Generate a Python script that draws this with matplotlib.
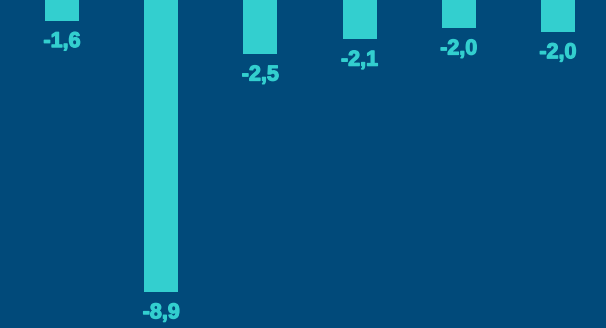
import matplotlib
matplotlib.use('Agg')
import matplotlib.pyplot as plt
import matplotlib.patheffects as pe

# bar values, labels as printed
positions = [0, 1, 2, 3, 4, 5]
values = [-1.6, -8.9, -2.5, -2.1, -1.8, -1.9]
labels = ['-1,6', '-8,9', '-2,5', '-2,1', '-2,0', '-2,0']

bg = '#014a7a'
bar_color = '#33cfcf'

fig = plt.figure(figsize=(6.06, 3.28), dpi=100)
fig.patch.set_facecolor(bg)
ax = fig.add_axes([0, 0, 1, 1])
ax.set_facecolor(bg)

ax.bar(positions, values, width=0.343, color=bar_color)

for x, v, s in zip(positions, values, labels):
    ax.annotate(s, (x, v), xytext=(0, -7.5), textcoords='offset points',
                ha='center', va='top', color=bar_color, fontsize=15.5,
                fontweight='bold', family='Liberation Sans',
                path_effects=[pe.withStroke(linewidth=0.9, foreground=bar_color)])

ax.set_xlim(-0.625, 5.484)
ax.set_ylim(-9.87, -1.044)
ax.axis('off')

plt.savefig('out.png', dpi=100, facecolor=bg)
